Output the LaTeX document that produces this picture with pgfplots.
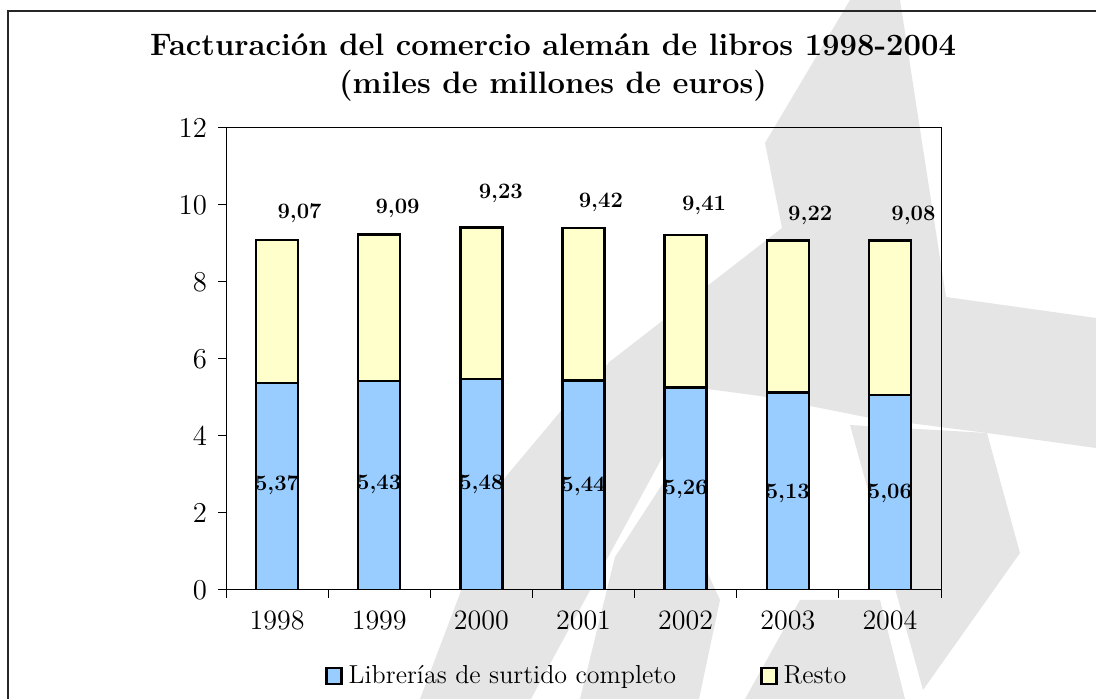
\documentclass[border=0pt]{standalone}
\usepackage{pgfplots}
\usepackage{pgfplotstable}
\pgfplotsset{compat=1.18}
\definecolor{lib}{RGB}{153,204,255}
\definecolor{resto}{RGB}{255,255,204}
\definecolor{wm}{RGB}{229,229,229}
\pgfplotsset{boxlegend/.style={legend image code/.code={\draw[##1, line width=1.2pt] (0pt,-4pt) rectangle (7.5pt,4pt);}}}

\pgfplotstableread{
x lib resto
0 5.37 3.72
1 5.43 3.80
2 5.48 3.94
3 5.44 3.97
4 5.26 3.96
5 5.13 3.95
6 5.06 4.02
}\bars

\pgfplotstableread{
x y label
0.22 9.79 9,07
1.18 9.92 9,09
2.19 10.31 9,23
3.17 10.08 9,42
4.18 10.00 9,41
5.22 9.74 9,22
6.23 9.74 9,08
}\toplabels

\pgfplotstableread{
x y label
0 2.73 5,37
1 2.73 5,43
2 2.73 5,48
3 2.68 5,44
4 2.60 5,26
5 2.52 5,13
6 2.52 5,06
}\botlabels

\begin{document}
\begin{tikzpicture}
\useasboundingbox (0,0) rectangle (548pt,349.5pt);
\begin{scope}[shift={(0pt,349.5pt)}, x=0.5pt, y=-0.5pt]
  \clip (0,0) rectangle (1096,699);
  % watermark (background logo)
  \fill[wm] (850,0) -- (900,0) -- (946,297) -- (1096,318) -- (1096,448) -- (987,433)
            -- (870,418) -- (760,396) -- (700,388) -- (608,363) -- (782,228) -- (765,143) -- cycle;
  \fill[wm] (612,360) -- (700,388) -- (531,699) -- (420,699) -- (503,480) -- (560,412) -- cycle;
  \fill[wm] (580,699) -- (615,557) -- (665,480) -- (720,600) -- (699,699) -- cycle;
  \fill[wm] (850,425) -- (987,433) -- (1020,553) -- (923,690) -- cycle;
  \fill[wm] (745,699) -- (800,600) -- (880,600) -- (905,699) -- cycle;
  % frame
  \draw[line width=0.6pt, black!85] (8,710) -- (8,11) -- (1100,11);
  % title
  \node[font=\fontsize{15.5}{18}\selectfont\bfseries] at (553,45) {Facturación del comercio alemán de libros 1998-2004};
  \node[font=\fontsize{15.5}{18}\selectfont\bfseries] at (553,86) {(miles de millones de euros)};
\end{scope}

\begin{axis}[
  at={(113pt,54.5pt)}, anchor=south west,
  scale only axis, width=357.5pt, height=231pt,
  xmin=-0.5, xmax=6.5, ymin=0, ymax=12,
  ybar stacked, bar width=21pt,
  ytick={0,2,...,12},
  xtick={-0.5,0.5,...,6.5}, xticklabels={},
  extra x ticks={0,1,2,3,4,5,6},
  extra x tick labels={1998,1999,2000,2001,2002,2003,2004},
  extra x tick style={major tick length=0pt},
  xtick pos=bottom, ytick pos=left,
  tick align=outside, major tick length=4pt,
  axis line style={line width=0.5pt},
  tick style={line width=0.5pt, black},
  ticklabel style={font=\fontsize{14}{16}\selectfont},
  xticklabel style={yshift=-7pt},
  yticklabel style={xshift=-2pt},
  legend columns=2,
  legend style={draw=none, fill=none, at={(0.506,-0.186)}, anchor=center,
    font=\fontsize{13}{15}\selectfont,
    /tikz/every even column/.append style={column sep=40pt},
    /tikz/every odd column/.append style={column sep=1pt}},
]
\addplot[fill=lib, draw=black, line width=1.2pt, boxlegend]
  table[x=x, y=lib] {\bars};
\addlegendentry{Librerías de surtido completo}
\addplot[fill=resto, draw=black, line width=1.2pt, boxlegend]
  table[x=x, y=resto] {\bars};
\addlegendentry{Resto}
\end{axis}

\begin{axis}[
  at={(113pt,54.5pt)}, anchor=south west,
  scale only axis, width=357.5pt, height=231pt,
  xmin=-0.5, xmax=6.5, ymin=0, ymax=12,
  hide axis, clip=false,
]
\addplot[draw=none, nodes near coords, point meta=explicit symbolic,
  nodes near coords style={anchor=center, inner sep=0pt, font=\fontsize{11}{13}\selectfont\bfseries}]
  table[x=x, y=y, meta=label] {\toplabels};
\addplot[draw=none, nodes near coords, point meta=explicit symbolic,
  nodes near coords style={anchor=center, inner sep=0pt, font=\fontsize{11}{13}\selectfont\bfseries}]
  table[x=x, y=y, meta=label] {\botlabels};
\end{axis}
\end{tikzpicture}
\end{document}
